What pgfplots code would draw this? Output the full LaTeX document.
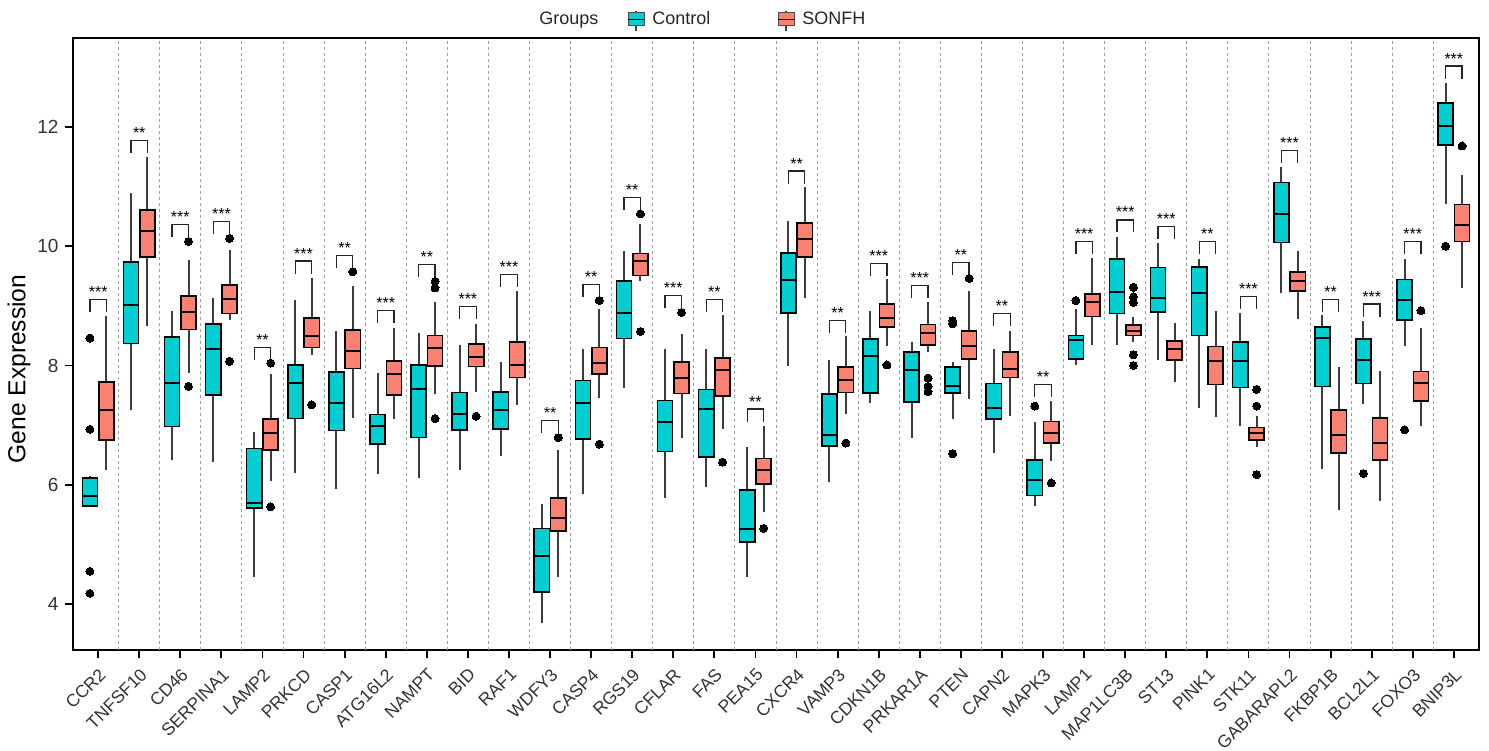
\documentclass[border=0pt]{standalone}
\usepackage{pgfplots}
\pgfplotsset{compat=1.18}
\usepgfplotslibrary{statistics}
\usetikzlibrary{calc}
\usepackage{fontspec}
\setmainfont{Liberation Sans}
\definecolor{ctrl}{RGB}{0,206,209}
\definecolor{sonfh}{RGB}{250,128,114}
\definecolor{whisk}{RGB}{60,60,60}
% #1 pos, #2 colour, #3 lw, #4 q1, #5 med, #6 q3, #7 uw, #8 outliers
\newcommand\bp[8]{%
\addplot[boxplot prepared={draw direction=y, draw position=#1, lower whisker=#3, lower quartile=#4,
  median=#5, upper quartile=#6, upper whisker=#7, box extend=0.37, whisker extend=0,
  every whisker/.style={draw=whisk, line width=1pt},
  every median/.style={draw=black, line width=1pt}},
  fill=#2, draw=black, line width=0.8pt, mark=*, mark size=2pt,
  mark options={fill=black, draw=black, line width=0pt}] coordinates {#8};}
% #1 gene index, #2 bracket top, #3 stars
\newcommand\sig[3]{%
\draw[line width=0.6pt, black!85] (axis cs:#1-0.2,#2-0.21) |- (axis cs:#1+0.2,#2) -- (axis cs:#1+0.2,#2-0.21);
\node[font=\fontsize{8}{8}\selectfont, anchor=base, inner sep=0pt, yshift=1pt] at (axis cs:#1,#2) {#3};}
\begin{document}
\begin{tikzpicture}
\begin{axis}[
  name=ax, at={(0,0)}, anchor=south west,
  scale only axis, width=702.5pt, height=306pt,
  xmin=0.4, xmax=34.6, ymin=3.23, ymax=13.49,
  axis line style={line width=1pt},
  tick align=outside, tick pos=left,
  major tick length=4pt,
  every tick/.style={black, line width=0.9pt},
  xtick={1,...,34},
  xticklabels={CCR2,TNFSF10,CD46,SERPINA1,LAMP2,PRKCD,CASP1,ATG16L2,NAMPT,BID,RAF1,WDFY3,CASP4,RGS19,CFLAR,FAS,PEA15,CXCR4,VAMP3,CDKN1B,PRKAR1A,PTEN,CAPN2,MAPK3,LAMP1,MAP1LC3B,ST13,PINK1,STK11,GABARAPL2,FKBP1B,BCL2L1,FOXO3,BNIP3L},
  xticklabel style={rotate=45, anchor=north east, font=\fontsize{8.8}{8.8}\selectfont, inner sep=1pt, text=black!80},
  xticklabel shift=3pt,
  ytick={4,6,8,10,12},
  yticklabel style={font=\fontsize{9.5}{9.5}\selectfont, text=black!80},
  /pgf/number format/assume math mode=true,
  extra x ticks={1.5,2.5,...,33.5},
  extra x tick labels={},
  extra x tick style={grid=major, major tick length=0pt,
    major grid style={gray!75, line width=0.5pt, dash pattern=on 1.5pt off 1.5pt}},
  clip=false,
]
% CCR2
\bp{0.8}{ctrl}{5.62}{5.64}{5.82}{6.11}{6.15}{(0,8.46) (0,6.93) (0,4.55) (0,4.18)}
\bp{1.2}{sonfh}{6.25}{6.75}{7.25}{7.72}{8.83}{}
% TNFSF10
\bp{1.8}{ctrl}{7.26}{8.37}{9.01}{9.73}{10.89}{}
\bp{2.2}{sonfh}{8.67}{9.82}{10.25}{10.61}{11.49}{}
% CD46
\bp{2.8}{ctrl}{6.42}{6.98}{7.70}{8.48}{8.92}{}
\bp{3.2}{sonfh}{7.88}{8.60}{8.90}{9.16}{9.76}{(0,10.08) (0,7.65)}
% SERPINA1
\bp{3.8}{ctrl}{6.38}{7.51}{8.27}{8.70}{9.13}{}
\bp{4.2}{sonfh}{8.76}{8.87}{9.11}{9.35}{9.94}{(0,10.13) (0,8.07)}
% LAMP2
\bp{4.8}{ctrl}{4.45}{5.61}{5.70}{6.61}{6.89}{}
\bp{5.2}{sonfh}{6.06}{6.58}{6.87}{7.10}{7.85}{(0,8.04) (0,5.63)}
% PRKCD
\bp{5.8}{ctrl}{6.19}{7.11}{7.70}{8.01}{9.09}{}
\bp{6.2}{sonfh}{8.18}{8.30}{8.50}{8.80}{9.46}{(0,7.34)}
% CASP1
\bp{6.8}{ctrl}{5.93}{6.91}{7.37}{7.89}{8.58}{}
\bp{7.2}{sonfh}{7.12}{7.95}{8.25}{8.59}{9.34}{(0,9.57)}
% ATG16L2
\bp{7.8}{ctrl}{6.18}{6.68}{6.98}{7.18}{7.88}{}
\bp{8.2}{sonfh}{7.10}{7.51}{7.86}{8.07}{8.63}{}
% NAMPT
\bp{8.8}{ctrl}{6.12}{6.79}{7.60}{8.01}{8.54}{}
\bp{9.2}{sonfh}{7.53}{7.99}{8.30}{8.50}{9.07}{(0,9.41) (0,9.30) (0,7.11)}
% BID
\bp{9.8}{ctrl}{6.24}{6.92}{7.18}{7.55}{8.35}{}
\bp{10.2}{sonfh}{7.55}{7.98}{8.14}{8.36}{8.70}{(0,7.15)}
% RAF1
\bp{10.8}{ctrl}{6.49}{6.93}{7.25}{7.56}{8.06}{}
\bp{11.2}{sonfh}{7.34}{7.80}{8.00}{8.39}{9.25}{}
% WDFY3
\bp{11.8}{ctrl}{3.69}{4.20}{4.80}{5.27}{5.68}{}
\bp{12.2}{sonfh}{4.46}{5.23}{5.45}{5.78}{6.59}{(0,6.79)}
% CASP4
\bp{12.8}{ctrl}{5.85}{6.77}{7.37}{7.75}{8.28}{}
\bp{13.2}{sonfh}{7.46}{7.86}{8.04}{8.30}{8.95}{(0,9.09) (0,6.68)}
% RGS19
\bp{13.8}{ctrl}{7.63}{8.45}{8.88}{9.42}{9.92}{}
\bp{14.2}{sonfh}{9.41}{9.51}{9.75}{9.88}{10.38}{(0,10.54) (0,8.57)}
% CFLAR
\bp{14.8}{ctrl}{5.78}{6.56}{7.06}{7.41}{8.28}{}
\bp{15.2}{sonfh}{6.79}{7.53}{7.79}{8.06}{8.53}{(0,8.89)}
% FAS
\bp{15.8}{ctrl}{5.96}{6.47}{7.27}{7.60}{8.27}{}
\bp{16.2}{sonfh}{6.93}{7.49}{7.92}{8.13}{8.85}{(0,6.38)}
% PEA15
\bp{16.8}{ctrl}{4.45}{5.04}{5.26}{5.91}{6.63}{}
\bp{17.2}{sonfh}{5.54}{6.01}{6.25}{6.44}{6.99}{(0,5.27)}
% CXCR4
\bp{17.8}{ctrl}{7.99}{8.88}{9.44}{9.89}{10.42}{}
\bp{18.2}{sonfh}{9.13}{9.82}{10.12}{10.39}{10.99}{}
% VAMP3
\bp{18.8}{ctrl}{6.05}{6.65}{6.84}{7.52}{8.09}{}
\bp{19.2}{sonfh}{7.18}{7.55}{7.76}{7.97}{8.49}{(0,6.70)}
% CDKN1B
\bp{19.8}{ctrl}{7.37}{7.54}{8.16}{8.44}{8.92}{}
\bp{20.2}{sonfh}{8.32}{8.64}{8.80}{9.03}{9.45}{(0,8.01)}
% PRKAR1A
\bp{20.8}{ctrl}{6.79}{7.39}{7.93}{8.23}{8.39}{}
\bp{21.2}{sonfh}{8.23}{8.34}{8.54}{8.69}{9.06}{(0,7.79) (0,7.65) (0,7.56)}
% PTEN
\bp{21.8}{ctrl}{7.11}{7.54}{7.65}{7.97}{8.06}{(0,8.75) (0,8.70) (0,6.52)}
\bp{22.2}{sonfh}{7.44}{8.11}{8.32}{8.58}{9.25}{(0,9.46)}
% CAPN2
\bp{22.8}{ctrl}{6.54}{7.10}{7.28}{7.70}{8.28}{}
\bp{23.2}{sonfh}{7.16}{7.80}{7.94}{8.23}{8.58}{}
% MAPK3
\bp{23.8}{ctrl}{5.64}{5.82}{6.08}{6.42}{7.06}{(0,7.32)}
\bp{24.2}{sonfh}{6.40}{6.70}{6.87}{7.06}{7.40}{(0,6.03)}
% LAMP1
\bp{24.8}{ctrl}{8.00}{8.11}{8.42}{8.50}{8.95}{(0,9.09)}
\bp{25.2}{sonfh}{8.34}{8.82}{9.06}{9.20}{9.80}{}
% MAP1LC3B
\bp{25.8}{ctrl}{8.34}{8.87}{9.24}{9.78}{10.15}{}
\bp{26.2}{sonfh}{8.39}{8.50}{8.58}{8.68}{8.82}{(0,9.31) (0,9.15) (0,9.06) (0,8.18) (0,8.00)}
% ST13
\bp{26.8}{ctrl}{8.09}{8.90}{9.13}{9.64}{10.06}{}
\bp{27.2}{sonfh}{7.72}{8.09}{8.28}{8.41}{8.71}{}
% PINK1
\bp{27.8}{ctrl}{7.28}{8.50}{9.22}{9.65}{9.78}{}
\bp{28.2}{sonfh}{7.14}{7.68}{8.07}{8.32}{8.92}{}
% STK11
\bp{28.8}{ctrl}{6.99}{7.63}{8.07}{8.39}{8.88}{}
\bp{29.2}{sonfh}{6.63}{6.75}{6.86}{6.96}{7.15}{(0,7.60) (0,7.32) (0,6.17)}
% GABARAPL2
\bp{29.8}{ctrl}{9.22}{10.06}{10.54}{11.07}{11.32}{}
\bp{30.2}{sonfh}{8.78}{9.25}{9.41}{9.57}{9.92}{}
% FKBP1B
\bp{30.8}{ctrl}{6.26}{7.65}{8.46}{8.65}{8.85}{}
\bp{31.2}{sonfh}{5.58}{6.53}{6.84}{7.25}{7.97}{}
% BCL2L1
\bp{31.8}{ctrl}{7.35}{7.70}{8.09}{8.44}{8.75}{(0,6.19)}
\bp{32.2}{sonfh}{5.72}{6.42}{6.70}{7.12}{7.90}{}
% FOXO3
\bp{32.8}{ctrl}{8.32}{8.76}{9.10}{9.44}{9.78}{(0,6.92)}
\bp{33.2}{sonfh}{6.99}{7.40}{7.70}{7.90}{8.63}{(0,8.92)}
% BNIP3L
\bp{33.8}{ctrl}{10.71}{11.70}{12.01}{12.40}{12.73}{(0,10.00)}
\bp{34.2}{sonfh}{9.30}{10.08}{10.36}{10.70}{11.19}{(0,11.68)}
% significance
\sig{1}{9.11}{***}\sig{2}{11.77}{**}\sig{3}{10.36}{***}\sig{4}{10.42}{***}
\sig{5}{8.30}{**}\sig{6}{9.75}{***}\sig{7}{9.84}{**}\sig{8}{8.92}{***}
\sig{9}{9.69}{**}\sig{10}{8.99}{***}\sig{11}{9.52}{***}\sig{12}{7.08}{**}
\sig{13}{9.36}{**}\sig{14}{10.82}{**}\sig{15}{9.17}{***}\sig{16}{9.11}{**}
\sig{17}{7.27}{**}\sig{18}{11.26}{**}\sig{19}{8.76}{**}\sig{20}{9.71}{***}
\sig{21}{9.34}{***}\sig{22}{9.73}{**}\sig{23}{8.87}{**}\sig{24}{7.68}{**}
\sig{25}{10.08}{***}\sig{26}{10.44}{***}\sig{27}{10.33}{***}\sig{28}{10.08}{**}
\sig{29}{9.16}{***}\sig{30}{11.61}{***}\sig{31}{9.11}{**}\sig{32}{9.03}{***}
\sig{33}{10.08}{***}\sig{34}{13.02}{***}
\end{axis}
% y label
\node[rotate=90, inner sep=0pt, font=\fontsize{12.3}{12.3}\selectfont] at (-27.25pt,140.5pt) {Gene Expression};
% legend
\node[anchor=base west, inner sep=0pt, font=\fontsize{9}{9}\selectfont, text=black!85] at (232.75pt,312.5pt) {Groups};
\draw[whisk, line width=0.6pt] (281.25pt,309.5pt) -- (281.25pt,319.5pt);
\draw[fill=ctrl, draw=black!70, line width=0.5pt] (277.25pt,312pt) rectangle (285.25pt,318.5pt);
\draw[black, line width=0.6pt] (277.25pt,315.25pt) -- (285.25pt,315.25pt);
\node[anchor=base west, inner sep=0pt, font=\fontsize{9}{9}\selectfont, text=black!85] at (289.25pt,312.5pt) {Control};
\draw[whisk, line width=0.6pt] (356.25pt,309.5pt) -- (356.25pt,319.5pt);
\draw[fill=sonfh, draw=black!70, line width=0.5pt] (352.25pt,312pt) rectangle (360.25pt,318.5pt);
\draw[black, line width=0.6pt] (352.25pt,315.25pt) -- (360.25pt,315.25pt);
\node[anchor=base west, inner sep=0pt, font=\fontsize{9}{9}\selectfont, text=black!85] at (364.25pt,312.5pt) {SONFH};
\pgfresetboundingbox
\path[use as bounding box] (-36.75pt,-50pt) rectangle (707.75pt,325pt);
\end{tikzpicture}
\end{document}
